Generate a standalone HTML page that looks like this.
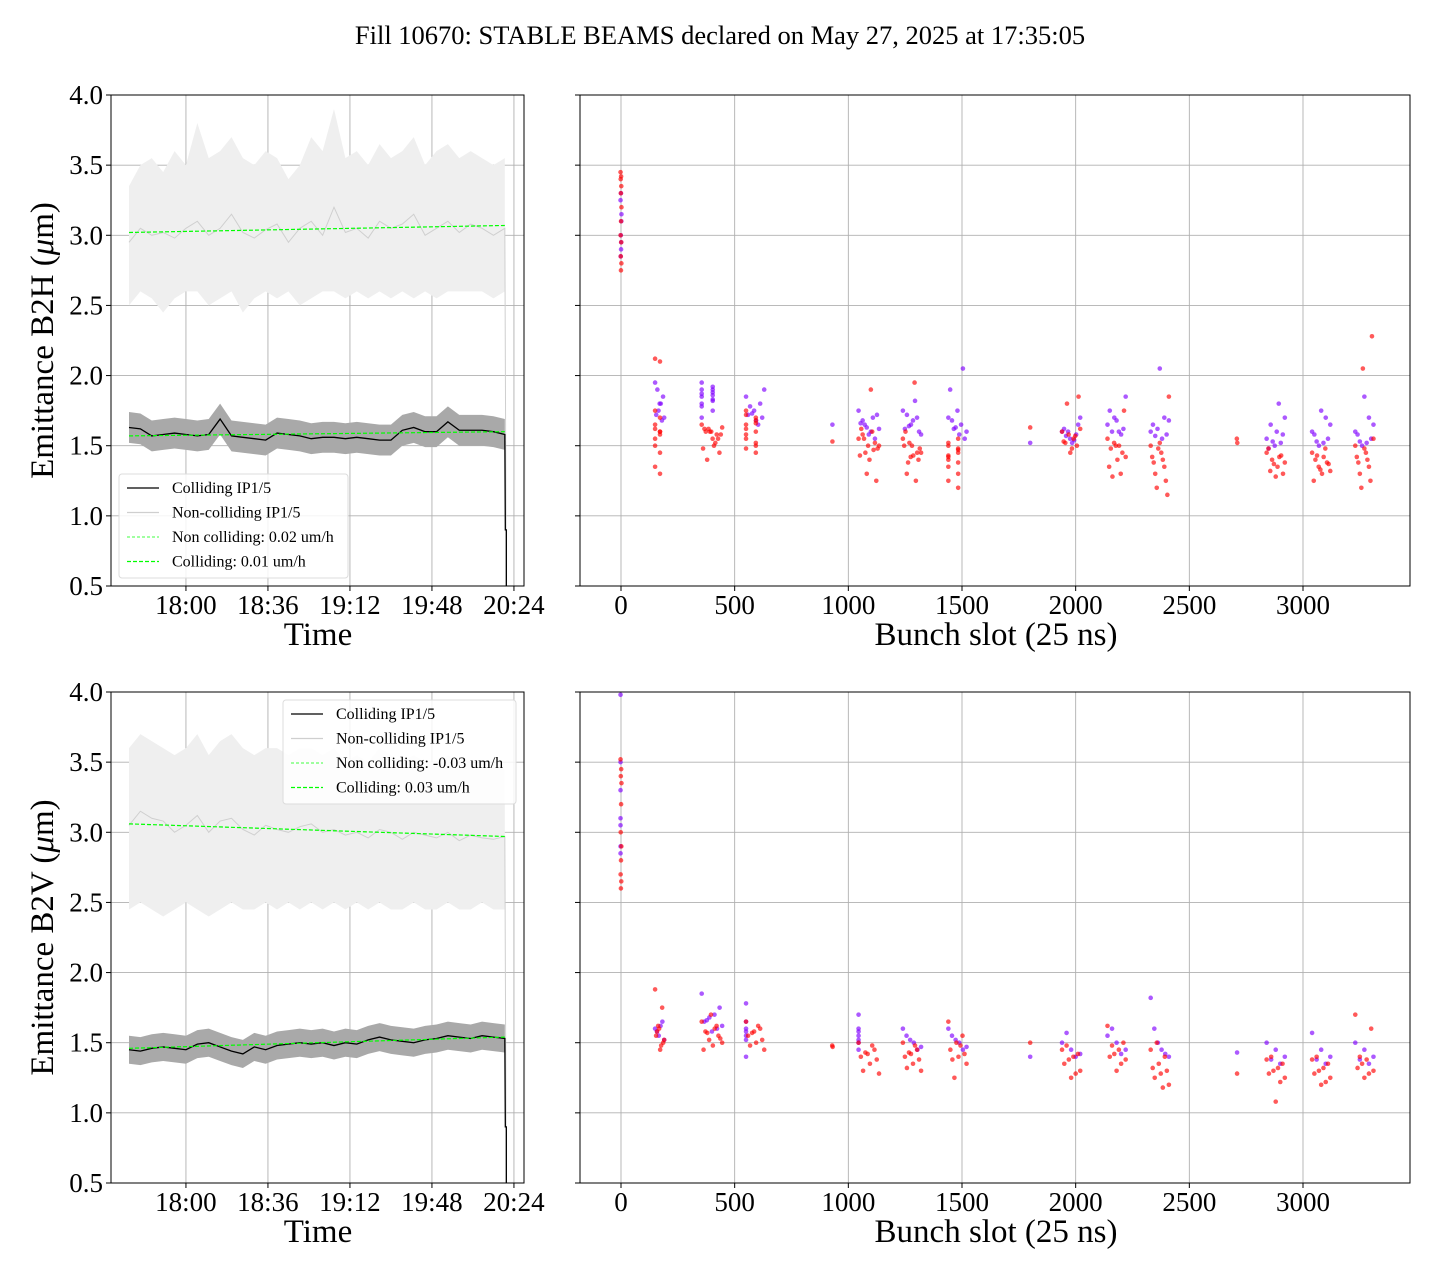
<!DOCTYPE html>
<html><head><meta charset="utf-8"><style>
body{margin:0;background:#fff;}
svg{display:block;font-family:"Liberation Serif",serif;}
</style></head><body>
<svg id="fig" width="1440" height="1280" xmlns="http://www.w3.org/2000/svg">
<text x="720" y="44" text-anchor="middle" font-size="26.5">Fill 10670: STABLE BEAMS declared on May 27, 2025 at 17:35:05</text>
</svg>
<script>
// ---------- data ----------
const timeStepMin = 5; // minutes between samples starting 17:35
const timeTicks = ["18:00","18:36","19:12","19:48","20:24"];
const timeTickMin = [25,61,97,133,169];
const yTicks = [0.5,1.0,1.5,2.0,2.5,3.0,3.5,4.0];
const slotTicks = [0,500,1000,1500,2000,2500,3000];

const hColMean = [1.63,1.62,1.57,1.58,1.59,1.58,1.57,1.58,1.69,1.57,1.56,1.55,1.54,1.59,1.58,1.57,1.55,1.56,1.56,1.55,1.56,1.55,1.54,1.54,1.61,1.63,1.60,1.60,1.67,1.61,1.61,1.61,1.60,1.58];
const hColHalf = 0.11;
const hNonMean = [2.95,3.05,3.00,3.02,2.98,3.05,3.10,3.00,3.05,3.15,3.02,2.98,3.04,3.08,2.95,3.05,3.10,3.00,3.20,3.02,3.05,2.98,3.10,3.05,3.08,3.15,3.00,3.05,3.10,3.02,3.08,3.05,3.00,3.05];
const hNonUp = [3.35,3.5,3.55,3.45,3.6,3.5,3.8,3.55,3.6,3.7,3.55,3.5,3.6,3.55,3.4,3.5,3.7,3.6,3.9,3.55,3.6,3.5,3.65,3.55,3.6,3.7,3.5,3.6,3.65,3.55,3.6,3.55,3.5,3.55];
const hNonLo = [2.5,2.6,2.55,2.45,2.55,2.6,2.6,2.5,2.55,2.6,2.45,2.55,2.6,2.55,2.6,2.5,2.55,2.6,2.6,2.55,2.6,2.55,2.6,2.55,2.6,2.55,2.6,2.55,2.6,2.6,2.6,2.6,2.55,2.6];
const hFitNon = [3.02,3.07];
const hFitCol = [1.57,1.60];

const vColMean = [1.45,1.44,1.46,1.47,1.46,1.45,1.49,1.50,1.47,1.44,1.42,1.47,1.45,1.48,1.49,1.50,1.49,1.50,1.48,1.50,1.49,1.52,1.54,1.52,1.51,1.50,1.52,1.53,1.55,1.54,1.53,1.55,1.54,1.53];
const vColHalf = 0.1;
const vNonMean = [3.05,3.15,3.10,3.08,3.00,3.05,3.12,3.00,3.08,3.10,3.02,2.98,3.05,3.02,3.00,3.04,3.06,3.00,3.02,2.98,3.00,2.96,3.02,3.00,2.95,3.00,2.98,2.96,3.00,2.94,2.98,2.96,2.95,2.97];
const vNonUp = [3.6,3.7,3.65,3.6,3.55,3.6,3.7,3.55,3.65,3.7,3.6,3.55,3.6,3.6,3.55,3.6,3.6,3.55,3.6,3.5,3.55,3.5,3.6,3.55,3.5,3.55,3.5,3.5,3.55,3.5,3.5,3.45,3.5,3.45];
const vNonLo = [2.45,2.5,2.45,2.4,2.45,2.5,2.45,2.4,2.45,2.5,2.45,2.45,2.5,2.45,2.5,2.45,2.5,2.45,2.5,2.45,2.5,2.45,2.5,2.45,2.45,2.5,2.45,2.45,2.5,2.45,2.45,2.5,2.45,2.45];
const vFitNon = [3.06,2.97];
const vFitCol = [1.46,1.54];

const clusterSlots = [0,170,400,590,930,1090,1280,1480,1800,1980,2180,2370,2710,2880,3080,3270];
const clusterWidths = [4,40,90,80,2,90,80,80,2,80,80,80,2,80,80,80];
const hRed = [[3.45,3.42,3.40,3.35,3.3,3.2,3.1,3.0,2.95,2.85,2.8,2.75],[2.12,2.1,1.75,1.6,1.65,1.6,1.55,1.7,1.5,1.45,1.35,1.3,1.62,1.58],[1.65,1.6,1.58,1.62,1.55,1.6,1.52,1.48,1.55,1.63,1.6,1.45,1.4,1.58,1.62,1.5],[1.75,1.7,1.65,1.6,1.55,1.5,1.62,1.68,1.58,1.52,1.48,1.45,1.72,1.66],[1.53],[1.55,1.5,1.48,1.45,1.52,1.58,1.6,1.43,1.4,1.5,1.3,1.25,1.55,1.47,1.62,1.9],[1.55,1.5,1.45,1.42,1.48,1.52,1.4,1.38,1.45,1.3,1.25,1.6,1.95,1.5,1.43],[1.5,1.45,1.42,1.48,1.4,1.38,1.35,1.3,1.25,1.2,1.52,1.47,1.43,1.55],[1.63],[1.6,1.55,1.52,1.5,1.58,1.62,1.48,1.53,1.57,1.8,1.85,1.45],[1.55,1.5,1.48,1.45,1.52,1.42,1.4,1.35,1.3,1.28,1.75,1.5],[1.5,1.45,1.42,1.4,1.38,1.35,1.3,1.25,1.2,1.15,1.48,1.85,1.52],[1.55,1.52],[1.45,1.42,1.4,1.38,1.35,1.32,1.3,1.28,1.48,1.43,1.37],[1.45,1.42,1.4,1.38,1.35,1.32,1.3,1.25,1.48,1.43,1.37,1.33],[1.5,1.45,1.42,1.4,1.38,1.35,1.3,1.25,1.2,2.28,2.05,1.55,1.48]];
const hPurple = [[3.25,3.15,3.1,2.95,2.9,3.3,3.0,2.85],[1.95,1.85,1.8,1.75,1.72,1.7,1.68,1.8,1.9],[1.95,1.9,1.85,1.88,1.8,1.82,1.78,1.92,1.87,1.75,1.7,1.83,1.9,1.86],[1.85,1.8,1.75,1.72,1.7,1.68,1.78,1.9,1.65,1.73],[1.65],[1.75,1.7,1.65,1.62,1.6,1.68,1.72,1.58,1.66,1.55,1.63],[1.75,1.7,1.65,1.62,1.6,1.68,1.72,1.58,1.82,1.64],[1.7,1.65,1.62,1.6,1.58,1.68,1.55,1.75,1.9,2.05,1.63],[1.52],[1.6,1.58,1.55,1.62,1.65,1.52,1.57,1.7,1.54,1.6],[1.65,1.62,1.6,1.7,1.75,1.85,1.58,1.68,1.6],[1.6,1.58,1.55,1.62,1.65,1.68,1.7,2.05,1.57],[],[1.55,1.52,1.5,1.48,1.58,1.6,1.65,1.7,1.8,1.53],[1.6,1.55,1.52,1.5,1.58,1.65,1.7,1.75,1.53],[1.6,1.55,1.52,1.5,1.58,1.65,1.7,1.85,1.53]];
const vRed = [[3.52,3.45,3.4,3.35,3.2,3.0,2.9,2.8,2.7,2.65,2.6],[1.88,1.75,1.6,1.55,1.5,1.45,1.58,1.52,1.48,1.62],[1.65,1.6,1.58,1.55,1.52,1.5,1.48,1.45,1.62,1.57,1.53,1.7],[1.65,1.6,1.58,1.55,1.52,1.5,1.48,1.45,1.62,1.57],[1.48,1.47],[1.5,1.45,1.42,1.4,1.38,1.35,1.3,1.28,1.48,1.43],[1.5,1.45,1.42,1.4,1.38,1.35,1.32,1.3,1.48,1.43],[1.65,1.55,1.5,1.45,1.42,1.4,1.38,1.35,1.48,1.25],[1.5],[1.45,1.42,1.4,1.38,1.35,1.3,1.28,1.25,1.48],[1.62,1.5,1.45,1.42,1.4,1.38,1.35,1.3,1.48],[1.45,1.4,1.35,1.32,1.3,1.28,1.25,1.2,1.18,1.5],[1.28],[1.38,1.35,1.32,1.3,1.28,1.25,1.22,1.08,1.4],[1.38,1.35,1.32,1.3,1.28,1.25,1.22,1.2,1.4],[1.7,1.6,1.38,1.35,1.32,1.3,1.28,1.25,1.4]];
const vPurple = [[3.98,3.5,3.3,3.1,2.9,2.85,3.05],[1.6,1.58,1.55,1.62,1.65,1.52],[1.85,1.75,1.7,1.68,1.65,1.62,1.6,1.58,1.66],[1.78,1.65,1.6,1.55,1.4,1.58,1.52],[],[1.7,1.6,1.55,1.52,1.5,1.45,1.58],[1.6,1.55,1.52,1.5,1.45,1.47],[1.6,1.55,1.52,1.5,1.45,1.47],[1.4],[1.5,1.45,1.42,1.57,1.4],[1.55,1.5,1.45,1.6,1.42],[1.82,1.6,1.5,1.45,1.42,1.4],[1.43],[1.5,1.45,1.4,1.38,1.35],[1.57,1.45,1.4,1.38,1.35],[1.5,1.45,1.4,1.38,1.35]];

// ---------- drawing ----------
const NS="http://www.w3.org/2000/svg";
const fig=document.getElementById('fig');
function mk(tag,attrs,parent){const e=document.createElementNS(NS,tag);for(const k in attrs)e.setAttribute(k,attrs[k]);(parent||fig).appendChild(e);return e;}

function panels(top,bot,ylabel,colMean,colHalf,nonMean,nonUp,nonLo,fitNon,fitCol,legendX,legendY,legendLabels,red,purple,key){
  const L={x0:111,x1:524}, R={x0:580,x1:1410};
  const yS=v=>bot-(v-0.5)/3.5*(bot-top);
  const tS=m=>129+m*82/36;
  const sS=s=>621+s*(1303-621)/3000;
  for(const p of [L,R]){
    yTicks.forEach(v=>{const l=mk('line',{x1:p.x0,x2:p.x1,y1:yS(v),y2:yS(v),stroke:'#b0b0b0','stroke-width':0.9});
      
      
      mk('line',{x1:p.x0-5,x2:p.x0,y1:yS(v),y2:yS(v),stroke:'#000'});});
  }
  timeTickMin.forEach((m,i)=>{const x=tS(m);mk('line',{x1:x,x2:x,y1:top,y2:bot,stroke:'#b0b0b0','stroke-width':0.9});
    mk('line',{x1:x,x2:x,y1:bot,y2:bot+5,stroke:'#000'});
    const t=mk('text',{x:x,y:bot+28,'text-anchor':'middle','font-size':27});t.textContent=timeTicks[i];
    
    });
  slotTicks.forEach(s=>{const x=sS(s);mk('line',{x1:x,x2:x,y1:top,y2:bot,stroke:'#b0b0b0','stroke-width':0.9});
    mk('line',{x1:x,x2:x,y1:bot,y2:bot+5,stroke:'#000'});
    const t=mk('text',{x:x,y:bot+28,'text-anchor':'middle','font-size':27});t.textContent=s;
    
    });
  yTicks.forEach(v=>{const t=mk('text',{x:103,y:yS(v)+9,'text-anchor':'end','font-size':27});t.textContent=v.toFixed(1);
    
    });
  const cid='clip'+key;const cp=mk('clipPath',{id:cid});mk('rect',{x:L.x0,y:top,width:L.x1-L.x0,height:bot-top},cp);
  const g=mk('g',{'clip-path':`url(#${cid})`});
  
  
  const n=nonMean.length;
  const xs=nonMean.map((_,i)=>tS(i*timeStepMin));
  const band=(up,lo,fill)=>{let d='M'+xs.map((x,i)=>x+','+yS(up[i])).join('L')+'L'+xs.slice().reverse().map((x,j)=>x+','+yS(lo[n-1-j])).join('L')+'Z';return mk('path',{d,fill},g);};
  const nb=band(nonUp,nonLo,'#efefef');
  
  
  const cb=band(colMean.map(v=>v+colHalf),colMean.map(v=>v-colHalf),'#a9a9a9');
  
  
  const xe=xs[n-1]+1.5;
  const nl=mk('polyline',{points:xs.map((x,i)=>x+','+yS(nonMean[i])).join(' ')+` ${xe},${yS(0.3)}`,fill:'none',stroke:'#cfcfcf','stroke-width':1},g);
  
  
  const cl=mk('polyline',{points:xs.map((x,i)=>x+','+yS(colMean[i])).join(' ')+` ${xs[n-1]+0.5},${yS(0.9)} ${xe},${yS(0.9)} ${xe},${yS(0.3)}`,fill:'none',stroke:'#000','stroke-width':1.3},g);
  
  
  const fx0=xs[0],fx1=xs[n-1];
  const f1=mk('line',{x1:fx0,x2:fx1,y1:yS(fitNon[0]),y2:yS(fitNon[1]),stroke:'#00ff00','stroke-width':1.2,'stroke-dasharray':'4,2'},g);
  
  
  const f2=mk('line',{x1:fx0,x2:fx1,y1:yS(fitCol[0]),y2:yS(fitCol[1]),stroke:'#00ff00','stroke-width':1.2,'stroke-dasharray':'4,2'},g);
  
  
  const sg=mk('g',{});
  
  
  const drawPts=(arr,color)=>arr.forEach((vals,c)=>{const k=vals.length;vals.forEach((v,i)=>{
    const f=k>1?((i*7)%k)/(k-1):0.5;const x=sS(clusterSlots[c]-clusterWidths[c]/2+f*clusterWidths[c]);
    const p=mk('circle',{cx:x,cy:yS(v),r:2.3,fill:color,'fill-opacity':0.65},sg);
    
    });});
  drawPts(purple,'#8000ff');drawPts(red,'#ff0000');
  for(const p of [L,R]){const r=mk('rect',{x:p.x0,y:top,width:p.x1-p.x0,height:bot-top,fill:'none',stroke:'#000','stroke-width':1});
    
    }
  const xl=mk('text',{x:318,y:bot+59,'text-anchor':'middle','font-size':33});xl.textContent='Time';
  
  
  const xr=mk('text',{x:996,y:bot+59,'text-anchor':'middle','font-size':33});xr.textContent='Bunch slot (25 ns)';
  
  
  const yc=(top+bot)/2;
  const yl=mk('text',{x:0,y:0,'text-anchor':'middle','font-size':33,transform:`translate(53,${yc}) rotate(-90)`});
  yl.innerHTML=ylabel+' (<tspan font-style="italic">μ</tspan>m)';
  
  
  const lg=mk('g',{});
  
  
  mk('rect',{x:legendX,y:legendY,width:legendLabels.w,height:104,rx:3,fill:'#fff','fill-opacity':0.85,stroke:'#dcdcdc'},lg);
  const styles=[{s:'#000',d:''},{s:'#cfcfcf',d:''},{s:'#00ff00',d:'3,2',o:0.6},{s:'#00ff00',d:'4,2'}];
  legendLabels.t.forEach((t,i)=>{const y=legendY+14+i*24.5;
    mk('line',{x1:legendX+8,x2:legendX+40,y1:y,y2:y,stroke:styles[i].s,'stroke-width':1.2,'stroke-dasharray':styles[i].d,'stroke-opacity':styles[i].o||1},lg);
    const tx=mk('text',{x:legendX+53,y:y+5,'font-size':16},lg);tx.textContent=t;
    
    });
}
panels(95,586,'Emittance B2H',hColMean,hColHalf,hNonMean,hNonUp,hNonLo,hFitNon,hFitCol,119,474,{w:229,t:['Colliding IP1/5','Non-colliding IP1/5','Non colliding: 0.02 um/h','Colliding: 0.01 um/h']},hRed,hPurple,'h');
panels(692,1183,'Emittance B2V',vColMean,vColHalf,vNonMean,vNonUp,vNonLo,vFitNon,vFitCol,283,700,{w:233,t:['Colliding IP1/5','Non-colliding IP1/5','Non colliding: -0.03 um/h','Colliding: 0.03 um/h']},vRed,vPurple,'v');
</script>
</body></html>
